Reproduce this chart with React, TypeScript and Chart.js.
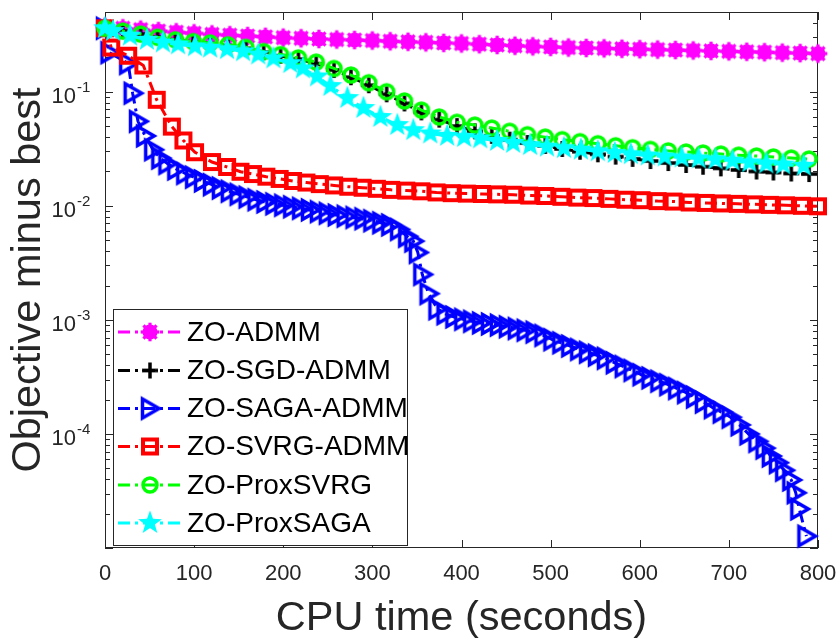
import React, { useEffect, useRef } from 'react';
import { Chart, registerables } from 'chart.js';

Chart.register(...registerables);

// ---------- data ----------
const X_TICKS = [0, 100, 200, 300, 400, 500, 600, 700, 800];
const Y_MAJOR = [1e-4, 1e-3, 1e-2, 1e-1];
const Y_EXPONENTS = ['-4', '-3', '-2', '-1'];
const X_TITLE = 'CPU time (seconds)';
const Y_TITLE = 'Objective minus best';
const NAMES = ['ZO-ADMM', 'ZO-SGD-ADMM', 'ZO-SAGA-ADMM', 'ZO-SVRG-ADMM', 'ZO-ProxSVRG', 'ZO-ProxSAGA'];

const admmT = [0, 20, 40, 60, 80, 100, 120, 140, 160, 180, 200, 220, 240, 260, 280, 300, 320, 340, 360, 380, 400, 420, 440, 460, 480, 500, 520, 540, 560, 580, 600, 620, 640, 660, 680, 700, 720, 740, 760, 780, 800];
const admmY = [0.37, 0.36, 0.35, 0.34, 0.332, 0.325, 0.318, 0.313, 0.308, 0.303, 0.298, 0.294, 0.29, 0.287, 0.284, 0.281, 0.277, 0.274, 0.271, 0.268, 0.265, 0.261, 0.257, 0.253, 0.25, 0.247, 0.244, 0.242, 0.24, 0.238, 0.236, 0.234, 0.232, 0.23, 0.228, 0.226, 0.224, 0.222, 0.22, 0.218, 0.216];

const sgdT = [0, 20, 40, 59, 79, 99, 118, 138, 158, 178, 197, 217, 237, 257, 276, 296, 316, 336, 355, 375, 395, 415, 434, 454, 474, 494, 513, 533, 553, 573, 592, 612, 632, 652, 671, 691, 711, 731, 750, 770, 790];
const sgdY = [0.36, 0.34, 0.32, 0.30, 0.285, 0.274, 0.265, 0.254, 0.24, 0.222, 0.207, 0.193, 0.176, 0.155, 0.134, 0.114, 0.095, 0.079, 0.066, 0.057, 0.05, 0.045, 0.041, 0.038, 0.0355, 0.0335, 0.0315, 0.0298, 0.0283, 0.027, 0.0258, 0.0247, 0.0237, 0.0228, 0.022, 0.0213, 0.0206, 0.02, 0.0196, 0.0192, 0.019];

const sagaT = [0, 5, 26, 31, 37, 45, 54, 62, 70, 80, 90, 100, 110, 120, 130, 140, 150, 160, 170, 180, 190, 200, 210, 220, 230, 240, 250, 260, 270, 280, 290, 300, 310, 320, 330, 339, 346, 351, 356, 363, 373, 382, 392, 402, 412, 422, 432, 442, 452, 462, 472, 482, 492, 502, 512, 522, 532, 542, 552, 562, 572, 582, 592, 602, 612, 622, 632, 642, 652, 662, 672, 682, 692, 702, 712, 722, 732, 740, 747, 755, 762, 770, 775, 779, 787];
const sagaY = [0.36, 0.22, 0.177, 0.097, 0.055, 0.041, 0.031, 0.0262, 0.0235, 0.021, 0.0192, 0.0178, 0.0165, 0.0153, 0.0143, 0.0134, 0.0126, 0.0119, 0.0113, 0.0108, 0.0104, 0.0101, 0.0098, 0.0095, 0.0092, 0.0089, 0.0086, 0.0083, 0.0081, 0.0079, 0.0077, 0.0074, 0.0071, 0.0068, 0.0062, 0.0054, 0.0049, 0.0039, 0.0025, 0.0017, 0.00125, 0.00113, 0.00106, 0.00101, 0.00097, 0.00094, 0.00092, 0.0009, 0.00087, 0.00084, 0.00081, 0.00078, 0.00073, 0.00067, 0.00063, 0.00059, 0.00055, 0.00052, 0.00049, 0.00046, 0.00042, 0.00039, 0.00036, 0.00033, 0.00031, 0.00029, 0.00027, 0.00025, 0.00023, 0.00021, 0.00019, 0.00017, 0.000155, 0.00014, 0.00012, 0.0001, 0.000086, 0.000075, 0.000064, 0.000056, 0.000048, 0.0000395, 0.0000305, 0.000022, 0.0000127];

const svrgT = [0, 7, 26, 43, 58, 75, 88, 101, 120, 137, 152, 166, 181, 196, 211, 226, 241, 257, 273, 289, 305, 321, 338, 355, 372, 389, 406, 423, 440, 458, 476, 494, 512, 530, 548, 566, 584, 602, 620, 638, 656, 674, 692, 710, 728, 746, 764, 782, 800];
const svrgY = [0.36, 0.244, 0.207, 0.17, 0.085, 0.0495, 0.0374, 0.0295, 0.0242, 0.0219, 0.0199, 0.019, 0.018, 0.0172, 0.0165, 0.016, 0.0155, 0.0151, 0.0147, 0.0144, 0.0141, 0.0138, 0.0136, 0.0134, 0.0131, 0.0129, 0.0128, 0.0127, 0.0126, 0.0125, 0.0123, 0.0122, 0.012, 0.0118, 0.0117, 0.0115, 0.0113, 0.0112, 0.011, 0.0109, 0.0107, 0.0106, 0.0105, 0.0104, 0.0103, 0.0102, 0.0101, 0.01, 0.0099];

const proxSvrgT = [0, 20, 40, 59, 79, 99, 118, 138, 158, 178, 197, 217, 237, 257, 276, 296, 316, 336, 355, 375, 395, 415, 434, 454, 474, 494, 513, 533, 553, 573, 592, 612, 632, 652, 671, 691, 711, 731, 750, 770, 790];
const proxSvrgY = [0.36, 0.34, 0.32, 0.30, 0.285, 0.275, 0.268, 0.258, 0.245, 0.225, 0.212, 0.198, 0.182, 0.16, 0.14, 0.12, 0.1, 0.083, 0.069, 0.06, 0.054, 0.051, 0.048, 0.045, 0.042, 0.04, 0.038, 0.0365, 0.035, 0.0336, 0.0323, 0.0312, 0.0303, 0.0296, 0.029, 0.0284, 0.0278, 0.0273, 0.0268, 0.0262, 0.0257];

const proxSagaT = [0, 9, 28, 47, 65, 82, 101, 118, 137, 155, 172, 189, 208, 222, 238, 253, 272, 290, 309, 328, 346, 365, 384, 403, 421, 440, 458, 477, 496, 515, 534, 553, 572, 590, 609, 628, 647, 666, 685, 704, 723, 742, 761, 784];
const proxSagaY = [0.36, 0.34, 0.31, 0.285, 0.27, 0.26, 0.25, 0.243, 0.236, 0.226, 0.212, 0.196, 0.178, 0.16, 0.136, 0.112, 0.088, 0.072, 0.06, 0.051, 0.046, 0.043, 0.041, 0.04, 0.039, 0.037, 0.0355, 0.034, 0.033, 0.032, 0.031, 0.030, 0.029, 0.0283, 0.0276, 0.027, 0.0265, 0.026, 0.0255, 0.0248, 0.024, 0.0235, 0.023, 0.0224];

// ---------- styles ----------
const COLORS = ['#ff00ff', '#000000', '#0000ff', '#ff0000', '#00ff00', '#00ffff'];
const DASH = [12, 5, 3, 5];
const AXIS = '#262626';
const FONT = '"Liberation Sans", Arial, Helvetica, sans-serif';

function makeCanvas(size: number, draw: (g: CanvasRenderingContext2D) => void) {
  const c = document.createElement('canvas');
  c.width = size;
  c.height = size;
  const g = c.getContext('2d')!;
  g.translate(size / 2, size / 2);
  draw(g);
  return c;
}

function makeMarkers() {
  const gear = makeCanvas(24, (g) => {
    g.fillStyle = COLORS[0];
    g.strokeStyle = COLORS[0];
    g.beginPath();
    g.arc(0, 0, 7.5, 0, Math.PI * 2);
    g.fill();
    g.lineWidth = 3.2;
    for (let k = 0; k < 4; k++) {
      const a = (k * Math.PI) / 4;
      g.beginPath();
      g.moveTo(-9.3 * Math.cos(a), -9.3 * Math.sin(a));
      g.lineTo(9.3 * Math.cos(a), 9.3 * Math.sin(a));
      g.stroke();
    }
  });
  const plus = makeCanvas(22, (g) => {
    g.strokeStyle = COLORS[1];
    g.lineWidth = 3.5;
    g.beginPath();
    g.moveTo(-8, 0); g.lineTo(8, 0);
    g.moveTo(0, -8); g.lineTo(0, 8);
    g.stroke();
  });
  const tri = makeCanvas(28, (g) => {
    g.strokeStyle = COLORS[2];
    g.lineWidth = 3.5;
    g.lineJoin = 'miter';
    g.beginPath();
    g.moveTo(-7.5, -9.5);
    g.lineTo(9, 0);
    g.lineTo(-7.5, 9.5);
    g.closePath();
    g.stroke();
  });
  const sq = makeCanvas(24, (g) => {
    g.strokeStyle = COLORS[3];
    g.lineWidth = 4;
    g.strokeRect(-7, -7, 14, 14);
  });
  const circ = makeCanvas(24, (g) => {
    g.strokeStyle = COLORS[4];
    g.lineWidth = 3.5;
    g.beginPath();
    g.arc(0, 0, 7, 0, Math.PI * 2);
    g.stroke();
  });
  const star = makeCanvas(28, (g) => {
    g.fillStyle = COLORS[5];
    g.beginPath();
    for (let k = 0; k < 10; k++) {
      const r = k % 2 === 0 ? 12.5 : 5.1;
      const a = -Math.PI / 2 + (k * Math.PI) / 5;
      const px = r * Math.cos(a);
      const py = r * Math.sin(a);
      if (k === 0) g.moveTo(px, py); else g.lineTo(px, py);
    }
    g.closePath();
    g.fill();
  });
  return [gear, plus, tri, sq, circ, star];
}

function pts(t: number[], y: number[]) {
  return t.map((v, i) => ({ x: v, y: y[i] }));
}

export default function App() {
  const ref = useRef<HTMLCanvasElement>(null);

  useEffect(() => {
    const markers = makeMarkers();
    const series = [
      pts(admmT, admmY),
      pts(sgdT, sgdY),
      pts(sagaT, sagaY),
      pts(svrgT, svrgY),
      pts(proxSvrgT, proxSvrgY),
      pts(proxSagaT, proxSagaY),
    ];

    const datasets = series.map((data, i) => ({
      label: NAMES[i],
      data,
      borderColor: COLORS[i],
      backgroundColor: COLORS[i],
      borderWidth: 3,
      borderDash: DASH,
      pointStyle: markers[i],
      pointRadius: 9,
      pointHoverRadius: 9,
      tension: 0,
      fill: false,
      clip: false as any,
      order: 5 - i,
    }));

    const framePlugin = {
      id: 'matlabFrame',
      beforeDatasetsDraw(chart: any) {
        const { ctx, chartArea: a, scales } = chart;
        const x = scales.x;
        const y = scales.y;
        ctx.save();
        ctx.strokeStyle = AXIS;
        ctx.lineWidth = 1;
        ctx.setLineDash([]);
        ctx.beginPath();
        X_TICKS.forEach((v) => {
          const px = Math.round(x.getPixelForValue(v)) + 0.5;
          ctx.moveTo(px, a.bottom);
          ctx.lineTo(px, a.bottom - 8);
          ctx.moveTo(px, a.top);
          ctx.lineTo(px, a.top + 8);
        });
        for (let e = -5; e < 0; e++) {
          for (let m = 1; m < 10; m++) {
            const v = m * Math.pow(10, e);
            if (v < y.min || v > y.max) continue;
            const py = Math.round(y.getPixelForValue(v)) + 0.5;
            const len = m === 1 ? 8 : 5;
            ctx.moveTo(a.left, py);
            ctx.lineTo(a.left + len, py);
            ctx.moveTo(a.right, py);
            ctx.lineTo(a.right - len, py);
          }
        }
        ctx.stroke();
        ctx.strokeRect(a.left + 0.5, a.top + 0.5, a.right - a.left - 1, a.bottom - a.top - 1);
        ctx.restore();
      },
      afterDraw(chart: any) {
        const { ctx, chartArea: a, scales } = chart;
        const x = scales.x;
        const y = scales.y;
        ctx.save();
        ctx.fillStyle = AXIS;
        // x tick labels
        ctx.font = `22px ${FONT}`;
        ctx.textAlign = 'center';
        ctx.textBaseline = 'middle';
        X_TICKS.forEach((v) => {
          ctx.fillText(String(v), x.getPixelForValue(v), a.bottom + 26);
        });
        // y tick labels with exponent
        Y_MAJOR.forEach((v, i) => {
          const py = y.getPixelForValue(v);
          ctx.font = `22px ${FONT}`;
          ctx.textAlign = 'right';
          ctx.textBaseline = 'middle';
          ctx.fillText('10', 76, py + 5);
          ctx.font = `15px ${FONT}`;
          ctx.textAlign = 'left';
          ctx.fillText(Y_EXPONENTS[i], 77, py - 4);
        });
        // axis titles
        ctx.font = `41.5px ${FONT}`;
        ctx.textAlign = 'center';
        ctx.textBaseline = 'alphabetic';
        ctx.fillText(X_TITLE, (a.left + a.right) / 2, 630);
        ctx.save();
        ctx.translate(40, (a.top + a.bottom) / 2);
        ctx.rotate(-Math.PI / 2);
        ctx.fillText(Y_TITLE, 0, 0);
        ctx.restore();

        // legend
        const bx = 113, by = 309, bw = 294, bh = 236;
        ctx.fillStyle = '#ffffff';
        ctx.fillRect(bx, by, bw, bh);
        ctx.strokeStyle = AXIS;
        ctx.lineWidth = 1;
        ctx.strokeRect(bx + 0.5, by + 0.5, bw, bh);
        const rows = [332, 370.5, 408.5, 446.5, 485, 523];
        NAMES.forEach((name, i) => {
          const ry = rows[i];
          ctx.strokeStyle = COLORS[i];
          ctx.lineWidth = 3;
          ctx.setLineDash(DASH);
          ctx.beginPath();
          ctx.moveTo(118, ry);
          ctx.lineTo(182, ry);
          ctx.stroke();
          ctx.setLineDash([]);
          const mk = markers[i];
          ctx.drawImage(mk, 150 - mk.width / 2, ry - mk.height / 2);
          ctx.fillStyle = '#000000';
          ctx.font = `28px ${FONT}`;
          ctx.textAlign = 'left';
          ctx.textBaseline = 'middle';
          ctx.fillText(name, 187, ry + 1);
        });
        ctx.restore();
      },
    };

    const chart = new Chart(ref.current!, {
      type: 'line',
      data: { datasets: datasets as any },
      options: {
        animation: false,
        responsive: false,
        devicePixelRatio: 1,
        events: [],
        layout: { padding: { top: 6, right: 21, left: 0, bottom: 0 } },
        plugins: { legend: { display: false }, tooltip: { enabled: false } },
        scales: {
          x: {
            type: 'linear',
            min: 0,
            max: 800,
            ticks: { display: false, stepSize: 100 },
            grid: { display: false },
            border: { display: false },
            afterFit: (s: any) => { s.height = 96; },
          },
          y: {
            type: 'logarithmic',
            min: 1e-5,
            max: 0.5,
            ticks: { display: false },
            grid: { display: false },
            border: { display: false },
            afterFit: (s: any) => { s.width = 105; },
          },
        },
      },
      plugins: [framePlugin],
    } as any);

    return () => chart.destroy();
  }, []);

  return (
    <div style={{ position: 'absolute', left: 0, top: 0, width: 839, height: 644, background: '#ffffff' }}>
      <canvas ref={ref} width={839} height={644} style={{ display: 'block', width: 839, height: 644 }} />
    </div>
  );
}
